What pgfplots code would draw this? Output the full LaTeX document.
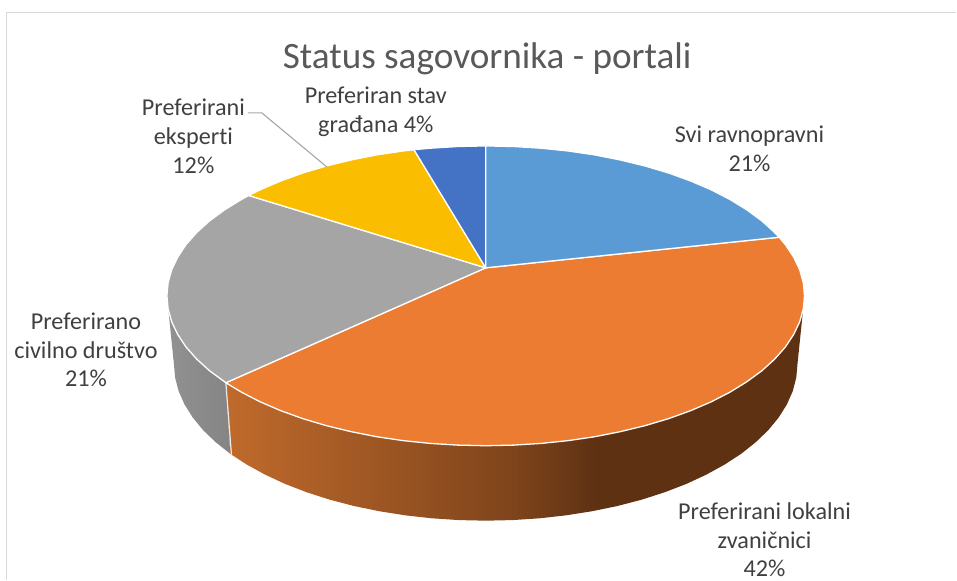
\documentclass[border=0pt]{standalone}
\usepackage{fontspec}
\setmainfont{Carlito}[Ligatures=NoCommon]
\usepackage{pgfplots}
\pgfplotsset{compat=1.18}
\definecolor{cblue}{HTML}{5B9BD5}
\definecolor{corange}{HTML}{EB7C31}
\definecolor{cgrey}{HTML}{A5A5A5}
\definecolor{cyellow}{HTML}{FBBD00}
\definecolor{cdblue}{HTML}{4472C4}
\definecolor{ctext}{HTML}{404040}
\definecolor{ctitle}{HTML}{595959}
\definecolor{ol}{HTML}{C06A2C}
\definecolor{om}{HTML}{7E441B}
\definecolor{od}{HTML}{5E3113}
\pgfdeclarehorizontalshading{orangeside}{100bp}{color(0bp)=(ol); color(25bp)=(ol); color(50bp)=(om); color(57bp)=(od); color(100bp)=(od)}
\begin{document}
\begin{tikzpicture}
\begin{axis}[
  at={(0,0)}, anchor=south west,
  width=957pt, height=580pt, scale only axis,
  xmin=0, xmax=957, ymin=0, ymax=580, y dir=reverse,
  hide axis, clip=false,
  every axis plot post/.append style={line join=round}
]
% page extent
\addplot[draw=none] coordinates {(0,0) (957,580)};
% frame
\addplot[color=black!15, line width=1.2pt] coordinates {(6.5,580) (6.5,12.5) (957,12.5)};
% grey side
\addplot[shading=axis, left color=black!43, right color=black!48, draw=none] coordinates {
(226,383) (230.4,454.1) (215.8,442.5) (203.2,430.4) (192.8,417.7) (184.6,404.6) (178.7,391.3) (175.2,377.7) (174,364) (167,296)} --cycle;
% orange side
\addplot[shading=orangeside, draw=none] coordinates {
(226,383) (230.4,454.1) (247,464.9) (265.4,475) (285.4,484.3) (307,492.6) (330,500) (354.1,506.3) (379.3,511.5) (405.2,515.6) (431.8,518.6) (458.8,520.4) (486,521) (513.2,520.4) (540.2,518.6) (566.8,515.6) (592.7,511.5) (617.9,506.3) (642,500) (665,492.6) (686.6,484.3) (706.6,475) (725,464.9) (741.6,454.1) (756.2,442.5) (768.8,430.4) (779.2,417.7) (787.4,404.6) (793.3,391.3) (796.8,377.7) (798,364) (805,296)} --cycle;
% separator on the side
\addplot[color=white!92!black, line width=1.2pt] coordinates {(226,383) (231.6,455)};
% top: orange
\addplot[fill=corange, draw=white, line width=1.3pt] coordinates {
(486,268) (779.6,237.4) (785.8,244.7) (794.1,257.2) (800.2,270) (803.8,282.9) (805,296) (803.8,309.1) (800.2,322) (794.1,334.8) (785.8,347.3) (775.1,359.4) (762.3,371) (747.3,382) (730.4,392.4) (711.6,402.1) (691.1,410.9) (669,418.9) (645.5,425.9) (620.8,431.9) (595.1,437) (568.6,440.9) (541.4,443.7) (513.8,445.4) (486,446) (458.2,445.4) (430.6,443.7) (403.4,440.9) (376.9,437) (351.2,431.9) (326.5,425.9) (303,418.9) (280.9,410.9) (260.4,402.1) (241.6,392.4) (226,383)} --cycle;
% top: grey
\addplot[fill=cgrey, draw=white, line width=1.3pt] coordinates {
(486,268) (226,383) (224.7,382) (209.7,371) (196.9,359.4) (186.2,347.3) (177.9,334.8) (171.8,322) (168.2,309.1) (167,296) (168.2,282.9) (171.8,270) (177.9,257.2) (186.2,244.7) (196.9,232.6) (209.7,221) (224.7,210) (241.6,199.6) (248.9,195.6)} --cycle;
% top: yellow
\addplot[fill=cyellow, draw=white, line width=1.3pt] coordinates {
(486,268) (248.9,195.6) (260.4,189.9) (280.9,181.1) (303,173.1) (326.5,166.1) (351.2,160.1) (376.9,155) (403.4,151.1) (414.2,149.8)} --cycle;
% top: dark blue
\addplot[fill=cdblue, draw=white, line width=1.3pt] coordinates {
(486,268) (414.2,149.8) (430.6,148.3) (458.2,146.6) (486,146)} --cycle;
% top: blue
\addplot[fill=cblue, draw=white, line width=1.3pt] coordinates {
(486,268) (486,146) (513.8,146.6) (541.4,148.3) (568.6,151.1) (595.1,155) (620.8,160.1) (645.5,166.1) (669,173.1) (691.1,181.1) (711.6,189.9) (730.4,199.6) (747.3,210) (762.3,221) (775.1,232.6) (779.6,237.4)} --cycle;
% leader line
\addplot[color=black!35, line width=1.1pt] coordinates {(248,113) (262,113) (327,167)};
% texts
\node[text=ctitle, font=\fontsize{37.2}{37}\selectfont, anchor=center] at (axis cs:487.5,59) {Status sagovornika - portali};
\tikzset{lab/.style={text=ctext, font=\fontsize{24.2}{29}\selectfont, align=center, anchor=center, inner sep=0pt}}
\node[lab] at (axis cs:750,149) {Svi ravnopravni\\21\%};
\node[lab, font=\fontsize{24.2}{28.5}\selectfont] at (axis cs:765,540.5) {Preferirani lokalni\\zvaničnici\\42\%};
\node[lab] at (axis cs:86,350) {Preferirano\\civilno društvo\\21\%};
\node[lab] at (axis cs:193.5,136) {Preferirani\\eksperti\\12\%};
\node[lab] at (axis cs:376,112) {Preferiran stav\\građana 4\%};
\end{axis}
\end{tikzpicture}
\end{document}
